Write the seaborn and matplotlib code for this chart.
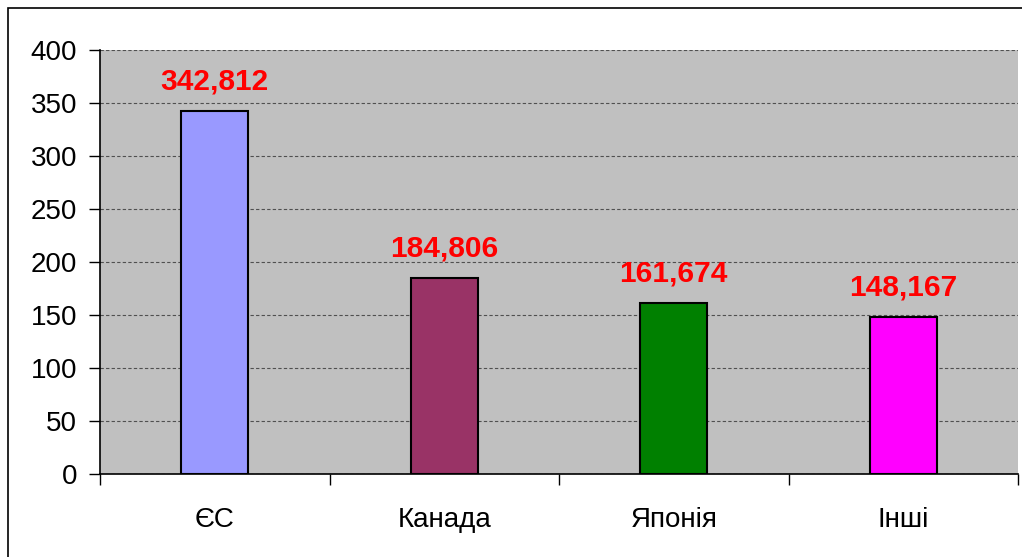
import numpy as np
import pandas as pd
import matplotlib.pyplot as plt
import seaborn as sns

# data
categories = ["ЄС", "Канада", "Японія", "Інші"]
values = [342.812, 184.806, 161.674, 148.167]
labels = ["342,812", "184,806", "161,674", "148,167"]
colors = ["#9999FF", "#993366", "#008000", "#FF00FF"]

df = pd.DataFrame({"cat": categories, "val": values})

sns.set_style("white")
plt.rcParams["font.family"] = ["Liberation Sans", "DejaVu Sans"]

fig = plt.figure(figsize=(10.22, 5.57), dpi=100)
ax = fig.add_axes([100 / 1022, 1 - 474 / 557, 918 / 1022, 424 / 557])
ax.set_facecolor("#C0C0C0")

sns.barplot(data=df, x="cat", y="val", hue="cat", palette=colors, legend=False,
            width=0.29, edgecolor="black", linewidth=1.5, saturation=1, ax=ax)

for i, (v, lab) in enumerate(zip(values, labels)):
    ax.annotate(lab, (i, v), xytext=(0, 11), textcoords="offset points",
                ha="center", va="bottom", color="red", fontsize=21.5, fontweight="bold")

ax.set_xlim(-0.5, 3.5)
ax.set_ylim(0, 400)
ax.set_yticks(np.arange(0, 401, 50))
ax.yaxis.grid(True, linestyle=(0, (3, 2)), color="#505050", linewidth=0.8)
ax.set_axisbelow(True)

# category boundary ticks on x
ax.set_xticks(np.arange(-0.5, 4, 1))
ax.set_xticklabels([])
ax.set_xticks(range(4), minor=True)
ax.set_xticklabels(categories, minor=True, fontsize=20)
ax.tick_params(axis="x", which="major", direction="out", length=8, width=1, bottom=True, colors="black")
ax.tick_params(axis="x", which="minor", length=0, pad=24, labelcolor="black")
ax.tick_params(axis="y", direction="out", length=8, width=1, left=True, pad=8.5,
               labelsize=20, colors="black")
ax.set_xlabel("")
ax.set_ylabel("")

for s in ["top", "right"]:
    ax.spines[s].set_visible(False)
for s in ["left", "bottom"]:
    ax.spines[s].set_color("black")
    ax.spines[s].set_linewidth(1.2)

# figure border
fig.patches.append(plt.Rectangle((8 / 1022, -0.1), 1.2, 1 - 8 / 557 + 0.1,
                                 transform=fig.transFigure, fill=False,
                                 edgecolor="black", linewidth=1.2))

fig.savefig("out.png", dpi=100)
